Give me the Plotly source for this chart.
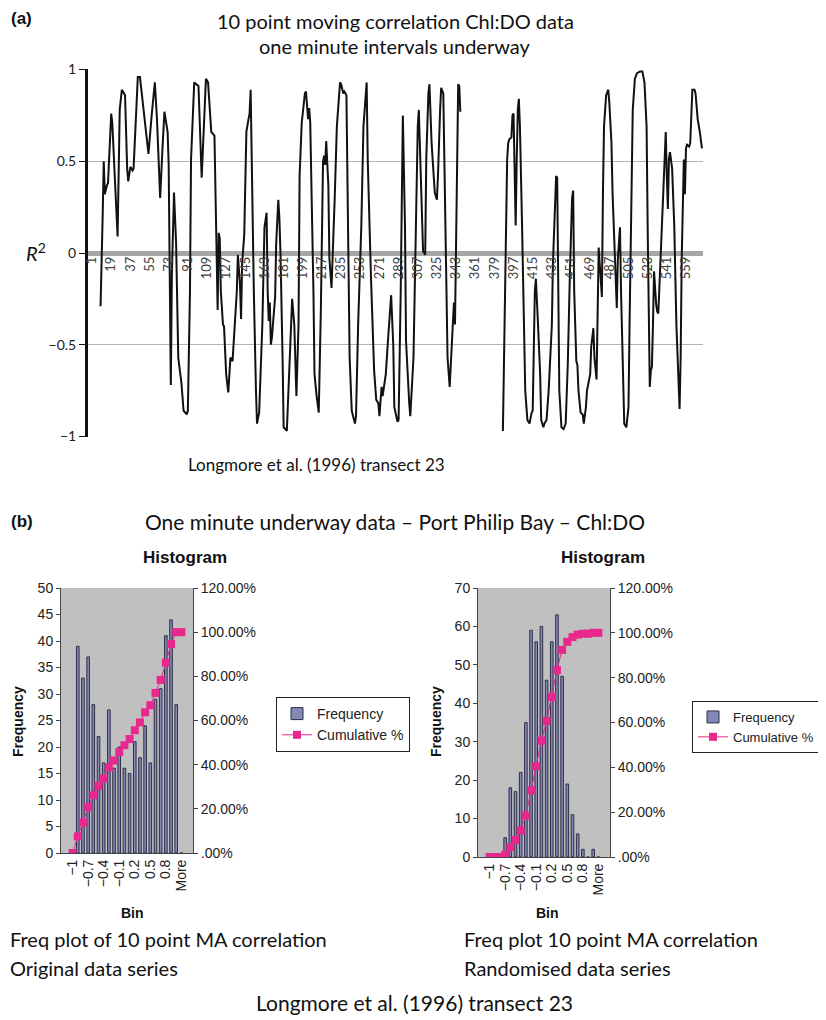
import plotly.graph_objects as go

# the page body keeps its 8px margin, so the figure is drawn 8px in from the corner
OFF = 8
W, H = 826 - OFF, 1020 - OFF


def fx(px):
    return (px - OFF) / W


def fy(py):
    return 1 - (py - OFF) / H


# (a) 10 point moving correlation, sample index / R at the turning points of the trace
obs_idx = [9, 10, 11, 12, 13, 15, 16, 19, 20, 25, 27, 29, 32, 34, 35, 37, 39, 40, 44, 46,
           50, 54, 57, 60, 62, 65, 67, 69, 72, 73, 75, 76, 78, 80, 82, 85, 87, 90, 91, 93,
           94, 97, 101, 104, 108, 110, 113, 116, 118, 119, 120, 121, 122, 124, 125, 127, 129, 131, 133, 134,
           137, 138, 140, 141, 142, 144, 146, 148, 149, 150, 151, 153, 155, 156, 158, 161, 163, 164, 165, 166,
           167, 168, 169, 170, 173, 174, 176, 177, 178, 180, 181, 184, 186, 188, 189, 191, 192, 193, 195, 196,
           198, 201, 202, 204, 205, 206, 209, 210, 212, 214, 216, 218, 219, 220, 221, 223, 224, 226, 229, 231,
           234, 235, 237, 238, 240, 241, 243, 245, 248, 249, 251, 254, 256, 259, 260, 263, 265, 266, 268, 270,
           271, 273, 274, 277, 279, 282, 284, 285, 288, 289, 291, 292, 293, 295, 296, 299, 300, 303, 305, 307,
           308, 310, 312, 314, 315, 317, 318, 320, 323, 325, 326, 328, 329, 331, 332, 334, 335, 337, 340, 341,
           342, 343, 344, 345, 346, 347, 365,
           387, 390, 391, 392, 393, 395, 396, 397, 398, 399, 400, 401, 402, 403, 405, 407, 408, 410, 412, 414,
           415, 417, 418, 420, 422, 423, 425, 426, 428, 430, 433, 434, 436, 437, 438, 439, 440, 442, 444, 446,
           448, 450, 452, 453, 454, 456, 457, 458, 460, 462, 463, 465, 466, 469, 470, 472, 473, 475, 476, 477,
           478, 480, 481, 482, 484, 486, 487, 489, 490, 492, 494, 495, 497, 498, 500, 501, 503, 505, 506, 508,
           509, 511, 513, 516, 518, 520, 522, 523, 524, 525, 526, 527, 528, 529, 531, 532, 533, 535, 536, 537,
           538, 540, 541, 542, 543, 544, 546, 548, 550, 552, 553, 554, 555, 557, 558, 559, 560, 562, 563, 565,
           567, 568, 570, 572, 574]
obs_r = [-0.29, 0.08, 0.21, 0.50, 0.32, 0.37, 0.38, 0.76, 0.71, 0.09, 0.78, 0.89, 0.86, 0.46, 0.39, 0.47, 0.45, 0.46, 0.96, 0.96,
         0.75, 0.54, 0.75, 0.93, 0.73, 0.30, 0.55, 0.77, 0.66, 0.48, -0.72, -0.12, 0.33, 0.05, -0.57, -0.71, -0.86, -0.88, -0.86, -0.21,
         0.51, 0.93, 0.91, 0.41, 0.95, 0.93, 0.66, 0.64, 0.01, -0.31, 0.11, 0.08, -0.21, -0.39, -0.40, -0.66, -0.76, -0.57, -0.59, -0.50,
         -0.21, -0.01, -0.17, -0.36, -0.06, 0.10, 0.66, 0.73, 0.76, 0.89, 0.50, -0.21, -0.75, -0.93, -0.87, -0.39, 0.14, 0.17, 0.22, -0.21,
         -0.37, -0.27, -0.50, -0.46, -0.24, 0.05, 0.29, 0.19, 0.01, -0.57, -0.95, -0.97, -0.66, -0.39, -0.25, -0.39, -0.68, -0.78, -0.39, 0.42,
         0.71, 0.87, 0.88, 0.73, 0.79, 0.71, -0.21, -0.66, -0.78, -0.87, -0.30, 0.50, 0.53, 0.48, 0.61, 0.37, -0.03, -0.19, 0.30, 0.69,
         0.93, 0.92, 0.87, 0.88, 0.86, 0.33, -0.57, -0.86, -0.93, -0.89, -0.39, 0.15, 0.69, 0.93, 0.51, -0.12, -0.57, -0.64, -0.80, -0.82,
         -0.89, -0.73, -0.78, -0.66, -0.48, -0.23, -0.50, -0.84, -0.92, -0.91, -0.21, 0.42, 0.75, 0.15, -0.48, -0.82, -0.89, -0.57, 0.15, 0.69,
         0.78, 0.33, 0.01, -0.01, 0.51, 0.87, 0.92, 0.60, 0.33, 0.29, 0.42, 0.78, 0.90, 0.87, 0.51, -0.12, -0.57, -0.73, -0.39, -0.27,
         -0.39, 0.05, 0.51, 0.92, 0.91, 0.77, None,
         -0.97, 0.33, 0.51, 0.60, 0.62, 0.63, 0.75, 0.76, 0.51, 0.15, 0.51, 0.78, 0.84, 0.69, 0.15, -0.48, -0.75, -0.91, -0.93, -0.87,
         -0.86, -0.21, -0.14, -0.39, -0.66, -0.91, -0.95, -0.93, -0.91, -0.75, -0.39, -0.06, 0.24, 0.42, 0.41, -0.21, -0.75, -0.95, -0.96, -0.93,
         -0.60, -0.10, 0.30, 0.34, -0.21, -0.59, -0.61, -0.75, -0.87, -0.88, -0.93, -0.84, -0.75, -0.66, -0.51, -0.41, -0.57, -0.69, -0.39, 0.03,
         -0.06, -0.24, 0.33, 0.69, 0.86, 0.89, 0.82, 0.60, 0.33, -0.03, -0.30, -0.03, 0.14, -0.21, -0.66, -0.93, -0.95, -0.84, -0.39, 0.33,
         0.78, 0.95, 0.98, 0.99, 0.99, 0.93, 0.69, 0.15, -0.39, -0.73, -0.64, -0.62, -0.39, -0.10, -0.28, -0.32, -0.33, -0.03, 0.12, 0.19,
         0.33, 0.66, 0.42, 0.24, 0.51, 0.55, 0.46, 0.15, -0.39, -0.75, -0.85, -0.57, -0.03, 0.51, 0.32, 0.57, 0.59, 0.58, 0.60, 0.89,
         0.89, 0.87, 0.73, 0.66, 0.57]

# (b) histograms
bins = ['-1', '-0.9', '-0.8', '-0.7', '-0.6', '-0.5', '-0.4', '-0.3', '-0.2', '-0.1', '0',
        '0.1', '0.2', '0.3', '0.4', '0.5', '0.6', '0.7', '0.8', '0.9', '1', 'More']
shown_bins = ['-1', '-0.7', '-0.4', '-0.1', '0.2', '0.5', '0.8', 'More']
shown_labels = ['\u22121', '\u22120.7', '\u22120.4', '\u22120.1', '0.2', '0.5', '0.8', 'More']
freq_orig = [0, 39, 33, 37, 28, 22, 17, 27, 16, 20, 16, 15, 21, 18, 24, 17, 29, 31, 41, 44, 28, 0]
cum_orig = [0, 7.5, 13.8, 20.8, 26.2, 30.4, 33.7, 38.8, 41.9, 45.7, 48.8, 51.6, 55.6, 59.1, 63.7,
            66.9, 72.5, 78.4, 86.2, 94.6, 100, 100]
freq_rand = [0, 0, 0, 5, 18, 17, 22, 35, 59, 56, 60, 46, 56, 63, 47, 19, 11, 6, 2, 0, 2, 0]
cum_rand = [0, 0, 0, 1.0, 4.4, 7.6, 11.8, 18.5, 29.8, 40.5, 51.9, 60.7, 71.4, 83.4, 92.4,
            96.0, 98.1, 99.2, 99.6, 99.6, 100, 100]
pct_ticks = [0, 20, 40, 60, 80, 100, 120]
pct_text = ['.00%', '20.00%', '40.00%', '60.00%', '80.00%', '100.00%', '120.00%']

CAL = 'Lato'
ARI = 'Liberation Sans'
BAR = '#8488b4'
BAR_LINE = '#2e2e48'
PINK = '#e8288c'

fig = go.Figure()

fig.add_trace(go.Scatter(x=obs_idx, y=obs_r, mode='lines', connectgaps=False,
                         line=dict(color='#111111', width=2), showlegend=False,
                         xaxis='x', yaxis='y'))

# left histogram
fig.add_trace(go.Bar(x=bins, y=freq_orig, name='Frequency', xaxis='x2', yaxis='y2',
                     marker=dict(color=BAR, line=dict(color=BAR_LINE, width=1)),
                     legend='legend'))
fig.add_trace(go.Scatter(x=bins, y=cum_orig, name='Cumulative %', xaxis='x2', yaxis='y3',
                         mode='lines+markers', line=dict(color=PINK, width=1),
                         marker=dict(symbol='square', size=8, color=PINK), legend='legend'))
# right histogram
fig.add_trace(go.Bar(x=bins, y=freq_rand, name='Frequency', xaxis='x3', yaxis='y4',
                     marker=dict(color=BAR, line=dict(color=BAR_LINE, width=1)),
                     legend='legend2'))
fig.add_trace(go.Scatter(x=bins, y=cum_rand, name='Cumulative %', xaxis='x3', yaxis='y5',
                         mode='lines+markers', line=dict(color=PINK, width=1),
                         marker=dict(symbol='square', size=8, color=PINK), legend='legend2'))

hist_x = dict(type='category', categoryorder='array', categoryarray=bins,
              tickmode='array', tickvals=shown_bins, ticktext=shown_labels,
              tickangle=-90, ticks='', showline=True, linecolor='#444', linewidth=1,
              showgrid=False, automargin=False,
              tickfont=dict(family=ARI, size=14, color='#222'))
hist_y = dict(ticks='outside', ticklen=4, tickcolor='#444', showline=True, linecolor='#444',
              linewidth=1, showgrid=False, zeroline=False, automargin=False,
              tickfont=dict(family=ARI, size=14, color='#222'))
pct_y = dict(hist_y, side='right', range=[0, 120], tickmode='array', tickvals=pct_ticks,
             ticktext=pct_text)
leg = dict(xanchor='left', yanchor='top', bgcolor='white', bordercolor='#222', borderwidth=1,
           traceorder='normal', itemwidth=30, tracegroupgap=0)

fig.update_layout(
    width=W, height=H,
    margin=dict(l=0, r=0, t=0, b=0, autoexpand=False),
    paper_bgcolor='white', plot_bgcolor='white',
    font=dict(family=ARI, size=14, color='#222'),
    bargap=0.5,
    xaxis=dict(domain=[fx(88), fx(703)], range=[-2.8, 575], anchor='free', position=fy(253),
               tickmode='array', tickvals=list(range(1, 560, 18)),
               ticktext=[str(v) for v in range(1, 560, 18)], tickangle=-90,
               showgrid=False, showline=False, zeroline=False, ticks='', automargin=False,
               tickfont=dict(family=CAL, size=13, color='#404040')),
    yaxis=dict(domain=[fy(437), fy(69)], range=[-1.003, 1.003], anchor='x',
               tickmode='array', tickvals=[-1, -0.5, 0, 0.5, 1],
               ticktext=['\u22121', '\u22120.5', '0', '0.5', '1'],
               showgrid=True, gridcolor='#b4b4b4', gridwidth=1,
               zeroline=True, zerolinecolor='#a6a6a6', zerolinewidth=5,
               showline=True, linecolor='#111', linewidth=3,
               ticks='outside', ticklen=6, tickcolor='#111', automargin=False,
               tickfont=dict(family=CAL, size=14, color='#222')),
    xaxis2=dict(hist_x, domain=[fx(61), fx(193)], anchor='y2'),
    yaxis2=dict(hist_y, domain=[fy(853), fy(588)], range=[0, 50], dtick=5, anchor='x2'),
    yaxis3=dict(pct_y, overlaying='y2', anchor='x2'),
    xaxis3=dict(hist_x, domain=[fx(478), fx(610)], anchor='y4'),
    yaxis4=dict(hist_y, domain=[fy(857), fy(588)], range=[0, 70], dtick=10, anchor='x3'),
    yaxis5=dict(pct_y, overlaying='y4', anchor='x3'),
    legend=dict(leg, x=fx(276), y=fy(697), font=dict(family=ARI, size=14, color='#222')),
    legend2=dict(leg, x=fx(692), y=fy(701), font=dict(family=ARI, size=13, color='#222')),
)

# grey plot areas of the histograms
for xr, yr in [('x2', 'y2'), ('x3', 'y4')]:
    fig.add_shape(type='rect', xref=xr + ' domain', yref=yr + ' domain', x0=0, x1=1, y0=0, y1=1,
                  fillcolor='#c0c0c0', line=dict(width=0), layer='below')


def note(text, x, y, size, family=CAL, xanchor='center', angle=0, color='#111'):
    fig.add_annotation(text=text, x=fx(x), y=fy(y), xref='paper', yref='paper',
                       xanchor=xanchor, yanchor='middle', showarrow=False, textangle=angle,
                       font=dict(family=family, size=size, color=color))


note('<b>(a)</b>', 9, 18, 17, family=ARI, xanchor='left')
note('10 point moving correlation Chl:DO data', 395, 21, 20)
note('one minute intervals underway', 395, 46, 20)
note('<i>R</i><sup>2</sup>', 36, 252, 20)
note('Longmore et al. (1996) transect 23', 316, 465, 17)

note('<b>(b)</b>', 9, 521, 17, family=ARI, xanchor='left')
note('One minute underway data \u2013 Port Philip Bay \u2013 Chl:DO', 395, 521, 21)

note('<b>Histogram</b>', 185, 557, 17, family=ARI)
note('<b>Histogram</b>', 603, 557, 17, family=ARI)
note('<b>Frequency</b>', 18, 722, 14, family=ARI, angle=-90)
note('<b>Frequency</b>', 436, 722, 14, family=ARI, angle=-90)
note('<b>Bin</b>', 132, 913, 14, family=ARI)
note('<b>Bin</b>', 547, 913, 14, family=ARI)

note('Freq plot of 10 point MA correlation', 8, 939, 20, xanchor='left')
note('Original data series', 8, 968, 20, xanchor='left')
note('Freq plot 10 point MA correlation', 462, 939, 20, xanchor='left')
note('Randomised data series', 462, 968, 20, xanchor='left')
note('Longmore et al. (1996) transect 23', 414, 1002, 21)

fig.write_html('out.html')
